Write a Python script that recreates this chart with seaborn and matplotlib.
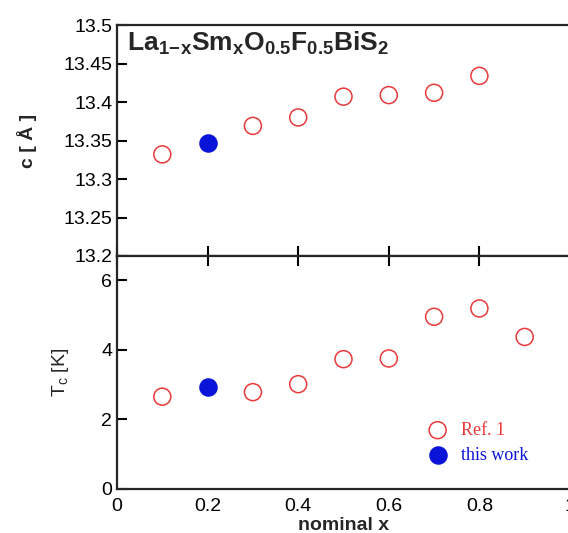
import matplotlib
matplotlib.use("Agg")
import matplotlib.pyplot as plt
import pandas as pd
import seaborn as sns

# nominal Sm content x
x_ref = [0.1, 0.3, 0.4, 0.5, 0.6, 0.7, 0.8]
c_ref = [13.332, 13.369, 13.380, 13.407, 13.409, 13.412, 13.434]
x_tc_ref = [0.1, 0.3, 0.4, 0.5, 0.6, 0.7, 0.8, 0.9]
tc_ref = [2.65, 2.78, 3.01, 3.73, 3.75, 4.95, 5.19, 4.37]

x_this = [0.2]
c_this = [13.347]
tc_this = [2.93]

c_ticks = [13.2, 13.25, 13.3, 13.35, 13.4, 13.45, 13.5]
c_ticklabels = ["13.2", "13.25", "13.3", "13.35", "13.4", "13.45", "13.5"]
tc_ticks = [0, 2, 4, 6]
x_ticks = [0, 0.2, 0.4, 0.6, 0.8, 1.0]
x_ticklabels = ["0", "0.2", "0.4", "0.6", "0.8", "1"]

RED = "#e8393b"
BLUE = "#0a14d8"

sns.set_style("ticks")
plt.rcParams["font.family"] = ["Liberation Sans", "DejaVu Sans"]
plt.rcParams["mathtext.default"] = "regular"
plt.rcParams["axes.linewidth"] = 1.6

df_c_ref = pd.DataFrame({"x": x_ref, "c": c_ref})
df_c_this = pd.DataFrame({"x": x_this, "c": c_this})
df_tc_ref = pd.DataFrame({"x": x_tc_ref, "tc": tc_ref})
df_tc_this = pd.DataFrame({"x": x_this, "tc": tc_this})

fig = plt.figure(figsize=(5.68, 5.33), dpi=100)
ax1 = fig.add_axes([0.206, 0.5197, 0.7975, 0.4333])
ax2 = fig.add_axes([0.206, 0.0831, 0.7975, 0.4366])

ms = 150
sns.scatterplot(data=df_c_ref, x="x", y="c", ax=ax1, s=ms, facecolor="none",
                edgecolor=RED, linewidth=1.1)
sns.scatterplot(data=df_c_this, x="x", y="c", ax=ax1, s=ms, color=BLUE,
                edgecolor=BLUE, linewidth=1.1)
sns.scatterplot(data=df_tc_ref, x="x", y="tc", ax=ax2, s=ms, facecolor="none",
                edgecolor=RED, linewidth=1.1, label="Ref. 1")
sns.scatterplot(data=df_tc_this, x="x", y="tc", ax=ax2, s=ms, color=BLUE,
                edgecolor=BLUE, linewidth=1.1, label="this work")

for ax in (ax1, ax2):
    ax.set_xlim(0, 1)
    ax.spines["right"].set_visible(False)
    ax.tick_params(axis="both", direction="in", length=7, width=1.5,
                   labelsize=14, colors="black")

ax1.set_ylim(13.2, 13.5)
ax1.set_yticks(c_ticks)
ax1.set_yticklabels(c_ticklabels)
ax1.set_xticks(x_ticks)
ax1.tick_params(axis="x", labelbottom=False)
ax1.set_xlabel("")
ax1.set_ylabel("c [ Å ]", fontsize=14, fontweight="bold", labelpad=19)
ax1.text(0.022, 0.978,
         r"La$_{1\!-\!x}$Sm$_x$O$_{0.5}$F$_{0.5}$BiS$_2$",
         transform=ax1.transAxes, ha="left", va="top", fontsize=19,
         fontweight="bold")

ax2.set_ylim(0, 6.7)
ax2.set_yticks(tc_ticks)
ax2.set_xticks(x_ticks)
ax2.set_xticklabels(x_ticklabels)
ax2.tick_params(axis="x", top=True, bottom=False, direction="in", pad=7)
ax2.set_ylabel("T$_c$ [K]", fontsize=14, labelpad=22)
ax2.set_xlabel("nominal x", fontsize=14, fontweight="bold", labelpad=1)

leg = ax2.legend(loc="lower left", bbox_to_anchor=(0.652, 0.075), frameon=False,
                 handletextpad=0.3, labelspacing=0.45, borderaxespad=0,
                 prop={"family": "Liberation Serif", "size": 13})
for txt, col in zip(leg.get_texts(), [RED, BLUE]):
    txt.set_color(col)

fig.savefig("out.png", dpi=100)
